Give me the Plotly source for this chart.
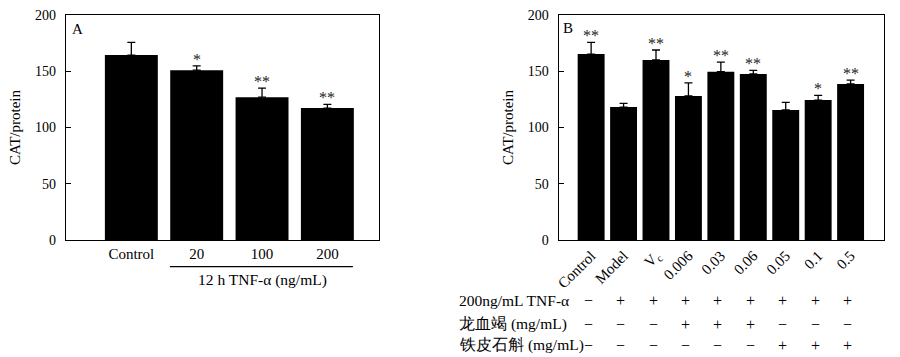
import plotly.graph_objects as go

# ---- data ----
cats_a = ["Control", "20", "100", "200"]
vals_a = [164.4, 151.0, 127.0, 117.3]
err_a = [11.3, 3.7, 8.0, 3.3]
sig_a = ["", "*", "**", "**"]

cats_b = ["Control", "Model", "V<sub>c</sub>", "0.006", "0.03", "0.06", "0.05", "0.1", "0.5"]
vals_b = [165.3, 118.2, 160.0, 128.0, 149.6, 147.6, 115.6, 124.4, 138.7]
err_b = [10.4, 3.3, 8.9, 11.6, 8.6, 3.2, 6.8, 4.2, 3.5]
sig_b = ["**", "", "**", "*", "**", "**", "", "*", "**"]

row_labels = ["200ng/mL TNF-α", "龙血竭 (mg/mL)", "铁皮石斛 (mg/mL)"]
row_tnf = ["−", "+", "+", "+", "+", "+", "+", "+", "+"]
row_dragon = ["−", "−", "−", "+", "+", "+", "−", "−", "−"]
row_dendro = ["−", "−", "−", "−", "−", "−", "+", "+", "+"]

yticks = [0, 50, 100, 150, 200]

FONT = "Liberation Serif, Times New Roman, serif"
W, H = 900, 357

def py(px):
    return 1 - px / H

fig = go.Figure()

fig.add_trace(go.Bar(
    x=cats_a, y=vals_a, xaxis="x", yaxis="y",
    marker=dict(color="black", line=dict(width=0)), width=0.81,
    error_y=dict(type="data", symmetric=False, array=err_a, arrayminus=[0]*len(err_a),
                 color="black", thickness=1.3, width=4),
    showlegend=False,
))
fig.add_trace(go.Bar(
    x=cats_b, y=vals_b, xaxis="x2", yaxis="y2",
    marker=dict(color="black", line=dict(width=0)), width=0.83,
    error_y=dict(type="data", symmetric=False, array=err_b, arrayminus=[0]*len(err_b),
                 color="black", thickness=1.3, width=4),
    showlegend=False,
))

axis_common = dict(showline=True, linecolor="black", linewidth=1.3, mirror=True,
                   showgrid=False, zeroline=False, automargin=False)
xfont = dict(family=FONT, size=15, color="black")
yfont = dict(family=FONT, size=14, color="black")
ytitle = dict(text="CAT/protein", font=dict(family=FONT, size=15, color="black"), standoff=10)
ycommon = dict(range=[0, 200], tickvals=yticks, ticks="inside", ticklen=5, tickcolor="black",
               tickwidth=1.3, tickfont=yfont, ticklabelstandoff=6, title=ytitle,
               domain=[py(240), py(15)], **axis_common)

fig.update_layout(
    width=W, height=H, margin=dict(l=0, r=0, t=0, b=0, pad=0, autoexpand=False),
    paper_bgcolor="white", plot_bgcolor="white",
    xaxis=dict(domain=[66/W, 379/W], anchor="y", range=[-1.0, 3.79], ticks="",
               type="category", tickfont=xfont, **axis_common),
    yaxis=dict(anchor="x", **ycommon),
    xaxis2=dict(domain=[558.7/W, 884/W], anchor="y2", range=[-1.0, 9.03], ticks="",
                type="category", tickangle=-45, tickfont=xfont, **axis_common),
    yaxis2=dict(anchor="x2", **ycommon),
)

ann = []
# panel letters
ann.append(dict(text="A", x=77/W, y=py(29), xref="paper", yref="paper", showarrow=False,
                font=dict(family=FONT, size=15, color="black"), xanchor="center", yanchor="middle"))
ann.append(dict(text="B", x=568/W, y=py(28), xref="paper", yref="paper", showarrow=False,
                font=dict(family=FONT, size=15, color="black"), xanchor="center", yanchor="middle"))

# significance marks (x given as category index)
for i, (v, e, s) in enumerate(zip(vals_a, err_a, sig_a)):
    if s:
        ann.append(dict(text=s, x=i, y=v + e, xref="x", yref="y", showarrow=False,
                        font=dict(family=FONT, size=16, color="#222"), yanchor="bottom", yshift=-4))
for i, (v, e, s) in enumerate(zip(vals_b, err_b, sig_b)):
    if s:
        ann.append(dict(text=s, x=i, y=v + e, xref="x2", yref="y2", showarrow=False,
                        font=dict(family=FONT, size=16, color="#222"), yanchor="bottom", yshift=-4))

# group label for panel A
ann.append(dict(text="12 h TNF-α (ng/mL)", x=2, y=py(280), xref="x", yref="paper",
                showarrow=False, font=dict(family=FONT, size=15.5, color="black"),
                xanchor="center", yanchor="middle"))

# treatment table for panel B
row_ys = [py(300), py(324), py(345)]
for lbl, yy, row in zip(row_labels, row_ys, [row_tnf, row_dragon, row_dendro]):
    ann.append(dict(text=lbl, x=457/W, y=yy, xref="paper", yref="paper", showarrow=False,
                    font=dict(family=FONT, size=15.5, color="black"), xanchor="left", yanchor="middle"))
    for i, sym in enumerate(row):
        ann.append(dict(text=sym, x=i, y=yy, xref="x2", yref="paper", showarrow=False, xshift=-3,
                        font=dict(family=FONT, size=16, color="black"), xanchor="center", yanchor="middle"))

fig.update_layout(annotations=ann)

fig.add_shape(type="line", xref="x", yref="paper", x0=0.59, x1=3.39, y0=py(266.7), y1=py(266.7),
              line=dict(color="black", width=1.2))

fig.write_html("out.html", config={"displayModeBar": False},
               post_script="document.body.style.margin='0';document.body.style.overflow='hidden';")
